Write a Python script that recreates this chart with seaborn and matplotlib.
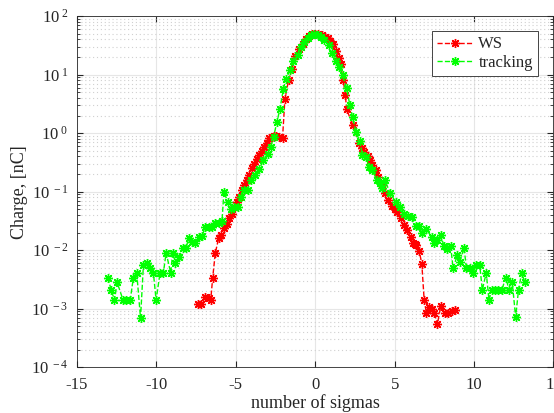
import numpy as np
import pandas as pd
import seaborn as sns
import matplotlib.pyplot as plt
from matplotlib.ticker import LogLocator, NullFormatter

# WS measurement
ws_sigma = [-7.36, -7.19, -6.92, -6.71, -6.58, -6.46, -6.29, -6.08, -5.93, -5.72,
            -5.58, -5.41, -5.24, -5.10, -4.95, -4.78, -4.61, -4.47, -4.30, -4.15,
            -3.98, -3.84, -3.69, -3.52, -3.35, -3.21, -3.06, -2.89, -2.75, -2.62,
            -2.45, -2.25, -2.06, -1.91, -1.68, -1.47, -1.26, -1.00, -0.80, -0.60,
            -0.40, -0.20, 0.00, 0.20, 0.40, 0.60, 0.78, 0.95, 1.09, 1.30,
            1.47, 1.60, 1.76, 1.90, 1.97, 2.35, 2.77, 2.92, 3.08, 3.30,
            3.44, 3.60, 3.82, 3.98, 4.19, 4.40, 4.61, 4.86, 5.00, 5.18,
            5.39, 5.60, 5.80, 6.02, 6.16, 6.29, 6.37, 6.54, 6.71, 6.86,
            7.00, 7.17, 7.38, 7.50, 7.69, 7.90, 8.18, 8.39, 8.60, 8.80]
ws_charge = [1.2e-3, 1.2e-3, 1.6e-3, 1.5e-3, 1.4e-3, 3.3e-3, 9e-3, 1.6e-2, 1.8e-2, 2.35e-2,
             2.8e-2, 3.5e-2, 4.2e-2, 5.5e-2, 6.7e-2, 8.2e-2, 0.106, 0.13, 0.158, 0.19,
             0.25, 0.30, 0.355, 0.42, 0.50, 0.58, 0.68, 0.81, 0.85, 0.89,
             0.88, 0.85, 0.81, 3.8, 8.0, 12.3, 21, 27, 34, 40,
             45.6, 49, 50, 49, 47, 44, 42, 37, 33, 25,
             19, 15, 8.0, 4.5, 2.6, 1.4, 0.67, 0.55, 0.48, 0.40,
             0.345, 0.285, 0.23, 0.18, 0.13, 0.093, 0.072, 0.057, 0.05, 0.044,
             0.035, 0.027, 0.022, 0.017, 0.0133, 0.0126, 0.0121, 0.0098, 0.0059, 1.4e-3,
             8.5e-4, 1.07e-3, 1.0e-3, 8.5e-4, 5.4e-4, 1.1e-3, 8.3e-4, 8.3e-4, 9e-4, 9.5e-4]

# tracking simulation
tr_sigma = [-13.06, -12.85, -12.64, -12.47, -12.10, -11.90, -11.65, -11.45, -11.24, -11.00,
            -10.82, -10.60, -10.40, -10.19, -10.02, -9.77, -9.56, -9.39, -9.10, -8.97,
            -8.80, -8.55, -8.34, -8.13, -7.97, -7.76, -7.55, -7.34, -7.13, -6.92,
            -6.71, -6.50, -6.29, -6.08, -5.87, -5.75, -5.51, -5.30, -5.10, -4.84,
            -4.67, -4.47, -4.26, -4.04, -3.77, -3.52, -3.27, -3.00, -2.81, -2.62,
            -2.41, -2.22, -2.01, -1.84, -1.59, -1.38, -1.11, -0.90, -0.69, -0.48,
            -0.27, -0.06, 0.15, 0.36, 0.57, 0.84, 1.05, 1.30, 1.51, 1.72,
            1.97, 2.18, 2.35, 2.56, 2.81, 2.97, 3.19, 3.40, 3.57, 3.92,
            4.05, 4.23, 4.40, 4.70, 5.07, 5.33, 5.60, 5.87, 6.08, 6.33,
            6.54, 6.71, 6.96, 7.34, 7.48, 7.69, 7.90, 8.11, 8.32, 8.53,
            8.68, 8.95, 9.10, 9.37, 9.52, 9.73, 9.94, 10.14, 10.36, 10.52,
            10.77, 10.94, 11.10, 11.30, 11.50, 11.75, 12.00, 12.20, 12.40, 12.62,
            12.80, 13.00, 13.20]
tr_charge = [3.4e-3, 2.1e-3, 1.4e-3, 2.8e-3, 1.4e-3, 1.4e-3, 1.4e-3, 3.4e-3, 4.1e-3, 6.9e-4,
             5.5e-3, 6.0e-3, 5.0e-3, 4.1e-3, 1.4e-3, 4.1e-3, 4.1e-3, 9e-3, 4.1e-3, 9e-3,
             6e-3, 7.7e-3, 1.1e-2, 1.1e-2, 1.6e-2, 1.4e-2, 1.3e-2, 1.7e-2, 1.75e-2, 2.45e-2,
             2.5e-2, 2.5e-2, 2.9e-2, 2.9e-2, 3.1e-2, 0.1, 0.067, 0.051, 0.055, 0.055,
             0.081, 0.107, 0.107, 0.16, 0.19, 0.24, 0.345, 0.44, 0.58, 0.87,
             1.56, 2.6, 5.6, 8.3, 12, 17, 21.5, 30, 36, 43,
             47, 48.6, 48, 44, 39, 32, 23, 17, 13.6, 9.8,
             6.0, 3.0, 1.9, 1.05, 0.72, 0.42, 0.39, 0.265, 0.23, 0.157,
             0.14, 0.114, 0.157, 0.095, 0.067, 0.054, 0.042, 0.038, 0.037, 0.026,
             0.026, 0.020, 0.023, 0.017, 0.013, 0.0148, 0.018, 0.0117, 0.0103, 0.0117,
             0.0049, 0.0082, 0.0063, 0.011, 0.0049, 0.0049, 0.0041, 0.0055, 0.0055, 0.0021,
             0.0041, 0.0014, 0.0021, 0.0021, 0.0021, 0.0021, 0.0034, 0.0021, 0.0029, 7.1e-4,
             0.0021, 0.0041, 0.0028]

x_ticks = [-15, -10, -5, 0, 5, 10, 15]
x_tick_labels = ["-15", "-10", "-5", "0", "5", "10", "15"]
y_ticks = [1e-4, 1e-3, 1e-2, 1e-1, 1e0, 1e1, 1e2]
y_tick_labels = ["10$^{\\ -4}$", "10$^{\\ -3}$", "10$^{\\ -2}$", "10$^{\\ -1}$",
                 "10$^{\\ 0}$", "10$^{\\ 1}$", "10$^{\\ 2}$"]

sns.set_style("ticks")
plt.rcParams['font.family'] = ['Liberation Serif', 'DejaVu Serif']
plt.rcParams['mathtext.fontset'] = 'custom'
plt.rcParams['mathtext.rm'] = 'Liberation Serif'
plt.rcParams['mathtext.it'] = 'Liberation Serif'
plt.rcParams['mathtext.default'] = 'rm'

ws = pd.DataFrame({"sigma": ws_sigma, "charge": ws_charge})
tr = pd.DataFrame({"sigma": tr_sigma, "charge": tr_charge})

fig = plt.figure(figsize=(5.54, 4.13), dpi=100)
ax = fig.add_axes([0.139, 0.111, 0.86, 0.85])

star = (8, 2, 0)
sns.lineplot(data=ws, x="sigma", y="charge", ax=ax, sort=False, estimator=None,
             color="#ff0000", linestyle="--", linewidth=1.0, marker=star,
             markersize=6.5, markeredgewidth=1.0, markeredgecolor="#ff0000", label="WS")
sns.lineplot(data=tr, x="sigma", y="charge", ax=ax, sort=False, estimator=None,
             color="#00ff00", linestyle="--", linewidth=1.0, marker=star,
             markersize=6.5, markeredgewidth=1.0, markeredgecolor="#00ff00", label="tracking")

ax.set_yscale("log")
ax.set_xlim(-15, 15)
ax.set_ylim(1e-4, 1e2)
ax.set_xticks(x_ticks)
ax.set_xticklabels(x_tick_labels)
ax.set_yticks(y_ticks)
ax.set_yticklabels(y_tick_labels)
ax.yaxis.set_minor_locator(LogLocator(base=10, subs=np.arange(2, 10)))
ax.yaxis.set_minor_formatter(NullFormatter())

ax.grid(True, which="major", color="#e6e6e6", linewidth=0.8, linestyle="-")
ax.grid(True, which="minor", axis="y", color="#d0d0d0", linewidth=0.8, linestyle=(0, (1, 2.5)))
ax.set_axisbelow(True)

dark = "#262626"
for s in ax.spines.values():
    s.set_visible(True)
    s.set_color(dark)
    s.set_linewidth(0.6)
ax.tick_params(which="both", direction="in", top=True, right=True, colors=dark,
               labelsize=12)
ax.tick_params(axis="x", which="major", pad=7)
ax.tick_params(axis="y", which="major", pad=6)
ax.tick_params(which="major", length=4)
ax.tick_params(which="minor", length=2)
for lbl in ax.get_xticklabels() + ax.get_yticklabels():
    lbl.set_color(dark)

ax.set_xlabel("number of sigmas", fontsize=13, color=dark, labelpad=1)
ax.set_ylabel("Charge, [nC]", fontsize=13, color=dark, labelpad=2)

leg = ax.legend(loc="upper right", bbox_to_anchor=(0.985, 0.98), fontsize=12,
                frameon=True, fancybox=False, edgecolor=dark, framealpha=1,
                handlelength=2.2, borderpad=0.3, labelspacing=0.15, handletextpad=0.3)
leg.get_frame().set_linewidth(0.6)

plt.savefig("out.png", dpi=100)
